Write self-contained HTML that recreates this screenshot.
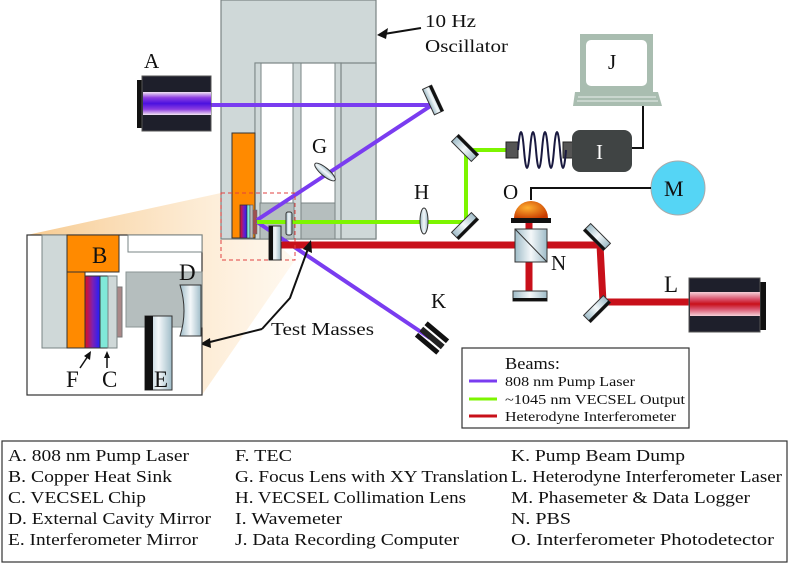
<!DOCTYPE html>
<html><head><meta charset="utf-8"><style>
body{margin:0;background:#fff;width:789px;height:564px;overflow:hidden}
svg{display:block}
text{font-family:"Liberation Serif",serif;fill:#111}
</style></head><body>
<svg width="789" height="564" viewBox="0 0 789 564" xmlns="http://www.w3.org/2000/svg">
<defs>
<linearGradient id="cone" x1="0" y1="0" x2="1" y2="0"><stop offset="0" stop-color="#f5c07a"/><stop offset="1" stop-color="#fff2e0" stop-opacity="0.6"/></linearGradient>
<linearGradient id="glass" x1="0" y1="0" x2="1" y2="0"><stop offset="0" stop-color="#9fbcc8"/><stop offset="0.5" stop-color="#f4f8fa"/><stop offset="1" stop-color="#9fbcc8"/></linearGradient>
<linearGradient id="pump" x1="0" y1="0" x2="0" y2="1"><stop offset="0" stop-color="#f3e6f3"/><stop offset="0.25" stop-color="#8d3de0"/><stop offset="0.5" stop-color="#4a10e0"/><stop offset="0.75" stop-color="#8d3de0"/><stop offset="1" stop-color="#f3e6f3"/></linearGradient>
<linearGradient id="red" x1="0" y1="0" x2="0" y2="1"><stop offset="0" stop-color="#f5d0d8"/><stop offset="0.3" stop-color="#d8506a"/><stop offset="0.5" stop-color="#c8101a"/><stop offset="0.7" stop-color="#d8506a"/><stop offset="1" stop-color="#f5d0d8"/></linearGradient>
<linearGradient id="tech" x1="0" y1="0" x2="1" y2="0"><stop offset="0" stop-color="#e0101a"/><stop offset="0.5" stop-color="#8020b0"/><stop offset="1" stop-color="#2020ff"/></linearGradient>
<radialGradient id="dome" cx="0.4" cy="0.4" r="0.7"><stop offset="0" stop-color="#ffb030"/><stop offset="1" stop-color="#c83a00"/></radialGradient>
</defs>

<polygon points="221,193 295,260 202,395 27,235" fill="url(#cone)" opacity="0.85"/>

<rect x="221" y="0" width="155" height="239" fill="#cfd8d8" stroke="#7a8484" stroke-width="1.2"/>
<rect x="255" y="63" width="86" height="176" fill="#fff" stroke="#7a8484" stroke-width="1.2"/>
<rect x="255" y="63" width="6" height="176" fill="#cfd8d8" stroke="#7a8484"/>
<rect x="293" y="63" width="8" height="176" fill="#cfd8d8" stroke="#7a8484"/>
<rect x="335" y="63" width="6" height="176" fill="#cfd8d8" stroke="#7a8484"/>
<rect x="260" y="203" width="34" height="36" fill="#b5bebe" stroke="#7a8484"/>
<rect x="301" y="203" width="34" height="36" fill="#b5bebe" stroke="#7a8484"/>
<rect x="341" y="63" width="35" height="176" fill="#cfd8d8" stroke="#7a8484" stroke-width="1.2"/>
<rect x="232" y="133" width="23" height="105" fill="#ff8a00" stroke="#333"/>
<rect x="240" y="205" width="7" height="33" fill="url(#tech)" stroke="#333" stroke-width="0.8"/>
<rect x="247" y="205" width="3" height="33" fill="#7fe8d8" stroke="#333" stroke-width="0.6"/>
<rect x="250" y="205" width="3" height="33" fill="#bbb" stroke="#555" stroke-width="0.6"/>
<rect x="253" y="210" width="4" height="24" fill="#a05050" stroke="#666" stroke-width="0.5"/>

<g stroke-width="4" fill="none">
<polyline points="205,105 432,105 257,220" stroke="#7a3cf0"/>
<line x1="257" y1="222" x2="430" y2="338" stroke="#7a3cf0"/>
<polyline points="257,222 466,222 466,150 508,150" stroke="#7df500"/>
</g>
<g stroke="#c8101a" stroke-width="7" fill="none">
<polyline points="281,245 600,245 603,302 690,302"/>
<line x1="529" y1="222" x2="529" y2="295"/>
</g>

<rect x="221" y="193" width="74" height="67" fill="none" stroke="#e04040" stroke-width="1" stroke-dasharray="4,3"/>

<rect x="286" y="212" width="6" height="23" rx="2" fill="url(#glass)" stroke="#333"/>
<rect x="269" y="226" width="12" height="34" fill="url(#glass)" stroke="#333"/>
<rect x="269" y="226" width="4" height="34" fill="#111"/>

<rect x="137" y="80" width="6" height="48" fill="#111"/>
<rect x="142" y="76" width="69" height="55" fill="#1e1f2b" stroke="#555"/>
<rect x="143" y="92" width="68" height="23" fill="url(#pump)"/>
<text x="144" y="68" font-size="21">A</text>

<g transform="translate(433,100) rotate(-25)"><rect x="-5" y="-14" width="10" height="28" fill="url(#glass)" stroke="#333"/><rect x="2" y="-14" width="3" height="28" fill="#111"/></g>
<g transform="translate(325,172) rotate(-50)"><ellipse cx="0" cy="0" rx="4" ry="13" fill="url(#glass)" stroke="#333"/></g>
<text x="312" y="153" font-size="21">G</text>

<text x="425" y="27" font-size="18" textLength="51" lengthAdjust="spacingAndGlyphs">10 Hz</text>
<text x="425" y="52" font-size="18" textLength="83" lengthAdjust="spacingAndGlyphs">Oscillator</text>
<line x1="421" y1="28" x2="384" y2="34" stroke="#111" stroke-width="2"/>
<polygon points="377,35 388,28 386,39" fill="#111"/>

<ellipse cx="424" cy="221" rx="4" ry="13" fill="url(#glass)" stroke="#333"/>
<text x="414" y="199" font-size="21">H</text>
<g transform="translate(465,148) rotate(45)"><rect x="-14" y="-5" width="28" height="10" fill="url(#glass)" stroke="#333"/><rect x="-14" y="-5" width="28" height="3" fill="#111"/></g>
<g transform="translate(465,226) rotate(-45)"><rect x="-14" y="-5" width="28" height="10" fill="url(#glass)" stroke="#333"/><rect x="-14" y="2" width="28" height="3" fill="#111"/></g>
<g transform="translate(597,237) rotate(45)"><rect x="-14" y="-5" width="28" height="10" fill="url(#glass)" stroke="#333"/><rect x="-14" y="2" width="28" height="3" fill="#111"/></g>
<g transform="translate(597,309) rotate(-45)"><rect x="-14" y="-5" width="28" height="10" fill="url(#glass)" stroke="#333"/><rect x="-14" y="2" width="28" height="3" fill="#111"/></g>

<rect x="506" y="142" width="12" height="16" fill="#555" stroke="#222"/>
<rect x="563" y="142" width="12" height="16" fill="#555" stroke="#222"/>
<path d="M518,150 q3,-36 6,0 q3,36 6,0 q3,-36 6,0 q3,36 6,0 q3,-36 6,0 q3,36 6,0 q3,-36 6,0 q3,36 6,0" fill="none" stroke="#1a1a40" stroke-width="2"/>
<rect x="572" y="130" width="60" height="42" rx="8" fill="#404444"/>
<text x="596" y="159" font-size="21" style="fill:#fff">I</text>
<polyline points="632,148 643,148 643,106" fill="none" stroke="#111" stroke-width="2"/>

<rect x="580" y="34" width="73" height="58" fill="#a9bdb0"/>
<rect x="586" y="40" width="61" height="46" rx="5" fill="#fff"/>
<text x="608" y="69" font-size="21">J</text>
<polygon points="575,92 658,92 662,106 573,106" fill="#a9bdb0"/>
<line x1="578" y1="97" x2="656" y2="97" stroke="#fff" stroke-width="0.8"/>
<line x1="577" y1="101" x2="658" y2="101" stroke="#fff" stroke-width="0.8"/>

<circle cx="678" cy="188" r="27" fill="#55d5f5" stroke="#aaa"/>
<text x="664" y="196" font-size="22">M</text>
<polyline points="651,188 531,188 531,200" fill="none" stroke="#111" stroke-width="2"/>

<path d="M514,218 a17,17 0 0 1 34,0 z" fill="url(#dome)"/>
<rect x="511" y="218" width="40" height="5" fill="#111"/>
<text x="503" y="199" font-size="21">O</text>
<rect x="515" y="229" width="32" height="33" fill="url(#glass)" stroke="#333"/>
<line x1="515" y1="229" x2="547" y2="262" stroke="#333"/>
<text x="551" y="270" font-size="21">N</text>
<rect x="513" y="291" width="34" height="10" fill="url(#glass)" stroke="#333"/>
<rect x="513" y="298" width="34" height="3" fill="#111"/>

<rect x="760" y="282" width="6" height="48" fill="#111"/>
<rect x="689" y="278" width="71" height="54" fill="#1e1f2b" stroke="#555"/>
<rect x="690" y="292" width="70" height="24" fill="url(#red)"/>
<text x="664" y="292" font-size="23">L</text>

<g transform="translate(432,338) rotate(40)"><rect x="-14" y="-10" width="28" height="5" fill="#111"/><rect x="-14" y="-3" width="28" height="6" fill="#222"/><rect x="-14" y="5" width="28" height="5" fill="#111"/></g>
<text x="431" y="308" font-size="21">K</text>

<text x="271" y="335" font-size="18" textLength="103" lengthAdjust="spacingAndGlyphs">Test Masses</text>
<polyline points="262,329 290,298 309,246" fill="none" stroke="#111" stroke-width="2"/>
<polygon points="311,240 312,253 303,249" fill="#111"/>
<line x1="262" y1="329" x2="206" y2="343" stroke="#111" stroke-width="2"/>
<polygon points="200,344 210,338 211,348" fill="#111"/>

<rect x="27" y="235" width="175" height="160" fill="#fff" stroke="#333" stroke-width="1.2"/>
<rect x="42" y="235" width="25" height="113" fill="#cfd8d8" stroke="#7a8484"/>
<rect x="67" y="235" width="52" height="37" fill="#ff8a00" stroke="#333"/>
<rect x="67" y="272" width="18" height="76" fill="#ff8a00" stroke="#333"/>
<rect x="128" y="235" width="74" height="17" fill="#fff" stroke="#7a8484"/>
<rect x="126" y="272" width="76" height="55" fill="#b5bebe" stroke="#8a9494"/>
<rect x="117" y="287" width="5" height="50" fill="#aa8888" stroke="#777"/>
<rect x="85" y="276" width="15" height="72" fill="url(#tech)" stroke="#333"/>
<rect x="100" y="276" width="8" height="72" fill="#80e8d8" stroke="#333"/>
<rect x="108" y="276" width="9" height="72" fill="#cfd8d8" stroke="#7a8484"/>
<text x="92" y="263" font-size="23">B</text>
<text x="179" y="280" font-size="23">D</text>
<path d="M180,285 h21 v51 h-21 q8,-25 0,-51 z" fill="url(#glass)" stroke="#333"/>
<rect x="145" y="316" width="27" height="74" fill="url(#glass)" stroke="#333"/>
<rect x="145" y="316" width="8" height="74" fill="#111"/>
<text x="154" y="387" font-size="23">E</text>
<text x="66" y="387" font-size="23">F</text>
<text x="102" y="387" font-size="23">C</text>
<line x1="80" y1="368" x2="88" y2="356" stroke="#111" stroke-width="1.5"/>
<polygon points="91,351 90,360 84,356" fill="#111"/>
<line x1="107" y1="368" x2="107" y2="356" stroke="#111" stroke-width="1.5"/>
<polygon points="107,351 110,358 104,358" fill="#111"/>

<rect x="462" y="348" width="227" height="80" fill="#fff" stroke="#333" stroke-width="1.2"/>
<text x="505" y="369" font-size="17" textLength="55" lengthAdjust="spacingAndGlyphs">Beams:</text>
<line x1="469" y1="381" x2="497" y2="381" stroke="#7a3cf0" stroke-width="3"/>
<text x="505" y="386" font-size="14" textLength="130" lengthAdjust="spacingAndGlyphs">808 nm Pump Laser</text>
<line x1="469" y1="399" x2="497" y2="399" stroke="#7df500" stroke-width="3"/>
<text x="505" y="404" font-size="14" textLength="180" lengthAdjust="spacingAndGlyphs">~1045 nm VECSEL Output</text>
<line x1="469" y1="416" x2="497" y2="416" stroke="#c8101a" stroke-width="3"/>
<text x="505" y="421" font-size="14" textLength="171" lengthAdjust="spacingAndGlyphs">Heterodyne Interferometer</text>

<rect x="2" y="441" width="785" height="121" fill="#fff" stroke="#333" stroke-width="1.2"/>
<g font-size="17" lengthAdjust="spacingAndGlyphs">
<text x="8" y="461" textLength="181" lengthAdjust="spacingAndGlyphs">A. 808 nm Pump Laser</text>
<text x="8" y="482" textLength="164" lengthAdjust="spacingAndGlyphs">B. Copper Heat Sink</text>
<text x="8" y="503" textLength="138" lengthAdjust="spacingAndGlyphs">C. VECSEL Chip</text>
<text x="8" y="524" textLength="203" lengthAdjust="spacingAndGlyphs">D. External Cavity Mirror</text>
<text x="8" y="545" textLength="190" lengthAdjust="spacingAndGlyphs">E. Interferometer Mirror</text>
<text x="235" y="461" textLength="57" lengthAdjust="spacingAndGlyphs">F. TEC</text>
<text x="235" y="482" textLength="273" lengthAdjust="spacingAndGlyphs">G. Focus Lens with XY Translation</text>
<text x="235" y="503" textLength="231" lengthAdjust="spacingAndGlyphs">H. VECSEL Collimation Lens</text>
<text x="235" y="524" textLength="107" lengthAdjust="spacingAndGlyphs">I.  Wavemeter</text>
<text x="235" y="545" textLength="224" lengthAdjust="spacingAndGlyphs">J. Data Recording Computer</text>
<text x="511" y="461" textLength="174" lengthAdjust="spacingAndGlyphs">K. Pump Beam Dump</text>
<text x="511" y="482" textLength="271" lengthAdjust="spacingAndGlyphs">L. Heterodyne Interferometer Laser</text>
<text x="511" y="503" textLength="239" lengthAdjust="spacingAndGlyphs">M. Phasemeter &amp; Data Logger</text>
<text x="511" y="524" textLength="60" lengthAdjust="spacingAndGlyphs">N. PBS</text>
<text x="511" y="545" textLength="263" lengthAdjust="spacingAndGlyphs">O. Interferometer Photodetector</text>
</g>
</svg>
</body></html>
